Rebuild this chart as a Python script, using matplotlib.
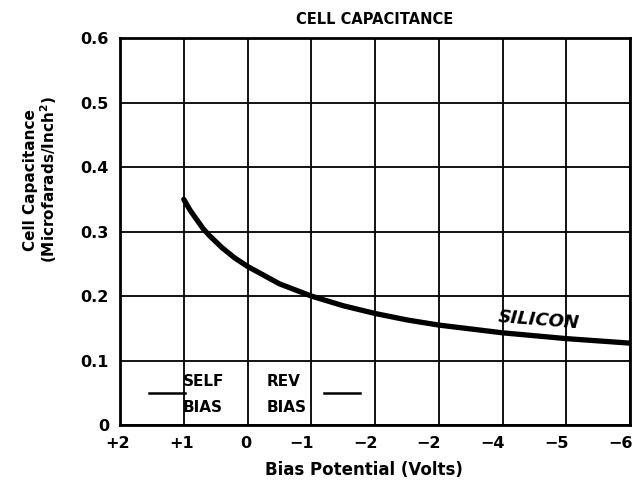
import matplotlib
matplotlib.use("Agg")
import matplotlib.pyplot as plt
from matplotlib.transforms import ScaledTranslation

plt.rcParams['font.family'] = ['DejaVu Sans']
plt.rcParams['font.weight'] = 'bold'
plt.rcParams['mathtext.default'] = 'regular'

# bias potential (volts) and silicon cell capacitance (uF/in^2)
bias_v = [1.0, 0.9, 0.8, 0.7, 0.6, 0.4, 0.2, 0.0, -0.5, -1.0, -1.5, -2.0, -2.5, -3.0, -4.0, -5.0, -6.0]
capacitance = [0.35, 0.333, 0.319, 0.305, 0.294, 0.275, 0.259, 0.246, 0.219, 0.20, 0.185, 0.173, 0.163, 0.155, 0.143, 0.134, 0.127]

x_ticks = [2, 1, 0, -1, -2, -3, -4, -5, -6]
x_tick_labels = ['+2', '+1', '0', '\u22121', '\u22122', '\u22122', '\u22124', '\u22125', '\u22126']
y_ticks = [0, 0.1, 0.2, 0.3, 0.4, 0.5, 0.6]
y_tick_labels = ['0', '0.1', '0.2', '0.3', '0.4', '0.5', '0.6']

fig = plt.figure(figsize=(6.4, 4.88), dpi=100)
ax = fig.add_axes([0.1875, 0.129, 0.797, 0.793])

ax.plot(bias_v, capacitance, color='black', linewidth=3.8, solid_capstyle='round')

ax.set_xlim(2, -6)
ax.set_ylim(0, 0.6)
ax.set_xticks(x_ticks)
ax.set_xticklabels(x_tick_labels, fontsize=11.5, fontweight='bold')
ax.set_yticks(y_ticks)
ax.set_yticklabels(y_tick_labels, fontsize=11.5, fontweight='bold')
ax.tick_params(length=0, pad=8)
ax.grid(True, color='black', linewidth=1.3)
for s in ax.spines.values():
    s.set_linewidth(2)
    s.set_color('black')

# the printed labels sit a little left of their grid lines
for lab in ax.get_xticklabels():
    shift = -10 if lab.get_text().startswith('\u2212') else -2
    lab.set_transform(lab.get_transform() + ScaledTranslation(shift / 100, 0, fig.dpi_scale_trans))

ax.set_title('CELL CAPACITANCE', fontsize=10.5, fontweight='bold', pad=10)
ax.set_xlabel('Bias Potential (Volts)', fontsize=12, fontweight='bold')
ax.xaxis.set_label_coords(0.478, -0.093)
ax.set_ylabel('Cell Capacitance\n(Microfarads/Inch$^2$)', fontsize=11, fontweight='bold',
              linespacing=1.0)
ax.yaxis.set_label_coords(-0.12, 0.634)

# annotations
ax.text(-4.57, 0.162, 'SILICON', fontsize=13, fontweight='bold', style='italic',
        rotation=-4.5, ha='center', va='center')
ax.plot([1.55, 0.98], [0.05, 0.05], color='black', linewidth=1.8)
ax.text(1.02, 0.068, 'SELF', fontsize=11, fontweight='bold', ha='left', va='center')
ax.text(1.02, 0.027, 'BIAS', fontsize=11, fontweight='bold', ha='left', va='center')
ax.text(-0.3, 0.068, 'REV', fontsize=11, fontweight='bold', ha='left', va='center')
ax.text(-0.3, 0.027, 'BIAS', fontsize=11, fontweight='bold', ha='left', va='center')
ax.plot([-1.2, -1.77], [0.05, 0.05], color='black', linewidth=1.8)

fig.savefig('out.png', dpi=100)
